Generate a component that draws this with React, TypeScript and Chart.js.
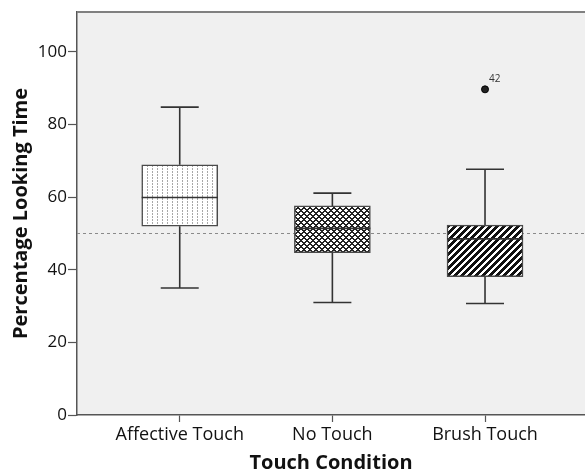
import React, { useEffect, useRef } from 'react';
import { Chart, registerables } from 'chart.js';

Chart.register(...registerables);

const categories = ['Affective Touch', 'No Touch', 'Brush Touch'];
const whiskerLow = [35.0, 31.0, 30.7];
const q1 = [52.0, 44.7, 38.1];
const medians = [59.9, 51.4, 48.5];
const q3 = [68.9, 57.6, 52.3];
const whiskerHigh = [84.8, 61.1, 67.7];
const outlierCategory = [3];
const outlierValues = [89.7];
const outlierLabels = ['42'];
const referenceValue = 50;
const yTicks = [0, 20, 40, 60, 80, 100];

const FONT = '"Open Sans", "DejaVu Sans", sans-serif';

function makePattern(w: number, h: number, bg: string, fn: (x: number, y: number) => string | null) {
  const c = document.createElement('canvas');
  c.width = w;
  c.height = h;
  const ctx = c.getContext('2d')!;
  ctx.fillStyle = bg;
  ctx.fillRect(0, 0, w, h);
  for (let y = 0; y < h; y++) {
    for (let x = 0; x < w; x++) {
      const col = fn(x, y);
      if (col) {
        ctx.fillStyle = col;
        ctx.fillRect(x, y, 1, 1);
      }
    }
  }
  return ctx.createPattern(c, 'repeat')!;
}

const boxPlugin = {
  id: 'boxExtras',
  beforeDraw(chart: any) {
    const { ctx, chartArea: a } = chart;
    ctx.save();
    ctx.fillStyle = '#f0f0f0';
    ctx.fillRect(a.left, a.top, a.right - a.left, a.bottom - a.top);
    ctx.restore();
  },
  beforeDatasetsDraw(chart: any) {
    const { ctx, chartArea: a, scales } = chart;
    const yr = Math.round(scales.y.getPixelForValue(referenceValue)) + 0.5;
    ctx.save();
    ctx.strokeStyle = '#8a8a8a';
    ctx.lineWidth = 1;
    ctx.setLineDash([3, 3]);
    ctx.beginPath();
    ctx.moveTo(a.left, yr);
    ctx.lineTo(a.right, yr);
    ctx.stroke();
    ctx.restore();
  },
  afterDatasetsDraw(chart: any) {
    const { ctx, chartArea: a, scales } = chart;
    const { x, y } = scales;
    const meta = chart.getDatasetMeta(0);
    ctx.save();
    ctx.strokeStyle = '#333';
    ctx.lineWidth = 1.6;
    categories.forEach((_, i) => {
      const px = x.getPixelForValue(i + 1);
      const bw = meta.data[i] ? meta.data[i].width : 76;
      const cap = bw / 4;
      const yHi = y.getPixelForValue(whiskerHigh[i]);
      const yQ3 = y.getPixelForValue(q3[i]);
      const yQ1 = y.getPixelForValue(q1[i]);
      const yLo = y.getPixelForValue(whiskerLow[i]);
      const yMed = y.getPixelForValue(medians[i]);
      ctx.beginPath();
      ctx.moveTo(px, yHi);
      ctx.lineTo(px, yQ3);
      ctx.moveTo(px, yQ1);
      ctx.lineTo(px, yLo);
      ctx.moveTo(px - cap, yHi);
      ctx.lineTo(px + cap, yHi);
      ctx.moveTo(px - cap, yLo);
      ctx.lineTo(px + cap, yLo);
      ctx.stroke();
      ctx.beginPath();
      ctx.moveTo(px - bw / 2, yMed);
      ctx.lineTo(px + bw / 2, yMed);
      ctx.stroke();
    });
    ctx.fillStyle = '#333';
    ctx.font = '10px ' + FONT;
    ctx.textAlign = 'left';
    ctx.textBaseline = 'middle';
    outlierValues.forEach((v, i) => {
      const px = x.getPixelForValue(outlierCategory[i]);
      const py = y.getPixelForValue(v);
      ctx.fillText(outlierLabels[i], px + 4, py - 10);
    });
    ctx.strokeStyle = '#808080';
    ctx.lineWidth = 2;
    ctx.setLineDash([]);
    ctx.beginPath();
    ctx.moveTo(a.left, a.top);
    ctx.lineTo(a.right, a.top);
    ctx.stroke();
    ctx.restore();
  },
};

export default function App() {
  const ref = useRef<HTMLCanvasElement>(null);
  useEffect(() => {
    const canvas = ref.current!;
    const patterns = [
      makePattern(5, 3, '#ffffff', (px, py) => (px === 2 && py < 2 ? '#a8a8a8' : null)),
      makePattern(6, 6, '#ffffff', (px, py) =>
        (px + py) % 6 < 2 || (px - py + 12) % 6 < 2 ? '#222222' : null
      ),
      makePattern(7, 7, '#ffffff', (px, py) => ((px + py) % 7 < 4 ? '#111111' : null)),
    ];
    const chart = new Chart(canvas, {
      type: 'bar',
      data: {
        datasets: [
          {
            type: 'bar',
            data: categories.map((_, i) => ({ x: i + 1, y: [q1[i], q3[i]] })) as any,
            backgroundColor: patterns as any,
            borderColor: '#4a4a4a',
            borderWidth: 1.5,
            borderSkipped: false,
            barThickness: 76,
          } as any,
          {
            type: 'scatter',
            data: outlierValues.map((v, i) => ({ x: outlierCategory[i], y: v })),
            pointRadius: 3.5,
            backgroundColor: '#222',
            borderColor: '#000',
            borderWidth: 1,
          } as any,
        ],
      },
      options: {
        animation: false,
        responsive: false,
        devicePixelRatio: 1,
        layout: { autoPadding: false, padding: { top: 12, left: 0, right: 0, bottom: 0 } },
        plugins: { legend: { display: false }, tooltip: { enabled: false } },
        scales: {
          x: {
            type: 'linear',
            offset: false,
            min: 0.327,
            max: 3.655,
            afterBuildTicks: (s: any) => {
              s.ticks = categories.map((_, i) => ({ value: i + 1 }));
            },
            afterFit: (s: any) => {
              s.height = 56;
            },
            ticks: {
              callback: (v: any) => categories[Number(v) - 1] ?? '',
              font: { family: FONT, size: 18 },
              color: '#111',
              padding: 2,
              maxRotation: 0,
              autoSkip: false,
            },
            grid: { offset: false, drawOnChartArea: false, tickLength: 7, color: '#555', tickWidth: 1.2 },
            border: { color: '#555', width: 1.5 },
            title: {
              display: true,
              text: 'Touch Condition',
              font: { family: FONT, size: 20, weight: 'bold' },
              color: '#111',
              padding: { top: 0, bottom: -4 },
            },
          },
          y: {
            type: 'linear',
            min: 0,
            max: 111,
            afterBuildTicks: (s: any) => {
              s.ticks = yTicks.map((v) => ({ value: v }));
            },
            afterFit: (s: any) => {
              s.width = 77;
            },
            ticks: {
              font: { family: FONT, size: 17 },
              color: '#111',
              padding: 1,
            },
            grid: { drawOnChartArea: false, tickLength: 9, color: '#555', tickWidth: 1.2 },
            border: { color: '#555', width: 1.5 },
            title: {
              display: true,
              text: 'Percentage Looking Time',
              font: { family: FONT, size: 20, weight: 'bold' },
              color: '#111',
              padding: { top: 9, bottom: 0 },
            },
          },
        },
      } as any,
      plugins: [boxPlugin],
    });
    return () => chart.destroy();
  }, []);
  return (
    <div style={{ position: 'fixed', left: 0, top: 0, width: 585, height: 471, background: '#fff' }}>
      <canvas ref={ref} width={585} height={471} style={{ width: 585, height: 471, display: 'block' }} />
    </div>
  );
}
